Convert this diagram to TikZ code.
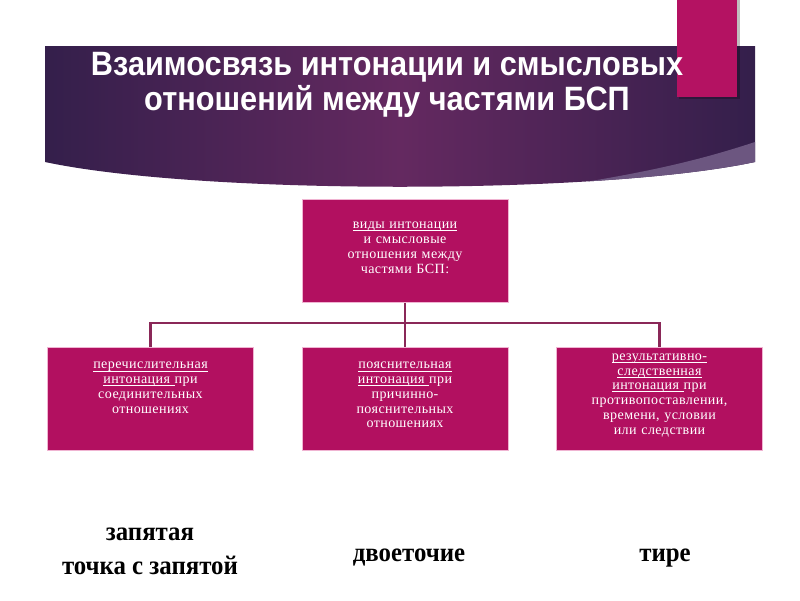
\documentclass[tikz,border=0pt]{standalone}
\usepackage{graphicx}
\usepackage{fontspec}
\setmainfont{Liberation Serif}
\newfontfamily\titlefont{Liberation Sans}
\newfontfamily\boxfont[LetterSpace=3]{Liberation Serif}
\usepackage{tikz}
\usetikzlibrary{positioning, calc}

\definecolor{bannerdark}{RGB}{52,31,75}
\definecolor{bannermid}{RGB}{100,41,96}
\definecolor{bannerlight}{RGB}{108,86,128}
\definecolor{accent}{RGB}{180,18,98}
\definecolor{boxfill}{RGB}{178,16,96}
\definecolor{boxline}{RGB}{240,180,210}
\definecolor{linkcol}{RGB}{138,40,88}

\newcommand\ulword[1]{\underline{\smash{#1}}}

\begin{document}
\begin{tikzpicture}[x=0.025cm, y=-0.025cm,
    kindbox/.style={rectangle, fill=boxfill, draw=boxline, line width=0.6pt,
      minimum width=5.15cm, minimum height=2.575cm, text width=4.8cm,
      align=center, text=white, font=\boxfont\fontsize{10}{10.5}\selectfont},
    link/.style={linkcol, line width=1.6pt},
    mark label/.style={font=\bfseries\fontsize{19}{24}\selectfont, align=center}]
      \useasboundingbox (0,0) rectangle (800,600);

      % Banner with curved bottom edge
      \shade[left color=bannerdark, right color=bannerdark, middle color=bannermid]
        (45,46) -- (755,46) -- (755,162) .. controls (600,195) and (200,195) .. (45,162) -- cycle;
      \begin{scope}
        \clip (45,46) -- (755,46) -- (755,162) .. controls (600,195) and (200,195) .. (45,162) -- cycle;
        \fill[bannerlight] (755,142) .. controls (700,160) and (650,172) .. (560,186) -- (800,220) -- (800,142) -- cycle;
      \end{scope}

      % Pink tab
      \fill[black, opacity=0.25] (679,0) rectangle (740,99);
      \fill[accent] (677,0) rectangle (737,97);

      % Title
      \node[text=white, font=\titlefont\bfseries\fontsize{24}{23}\selectfont] (title) at (387,86)
        {\scalebox{0.91}[1]{\begin{tabular}{@{}c@{}}Взаимосвязь интонации и смысловых\\отношений между частями БСП\end{tabular}}};

      % Boxes
      \node[kindbox] (top) at (405,251)
        {\ulword{виды интонации}\\и смысловые\\отношения между\\частями БСП:};
      \node[kindbox] (left) at (150.5,398.5)
        {\ulword{перечислительная}\\\ulword{интонация }при\\соединительных\\отношениях\\~};
      \node[kindbox] (mid) at (405,398.5)
        {\ulword{пояснительная}\\\ulword{интонация }при\\причинно-\\пояснительных\\отношениях};
      \node[kindbox] (right) at (659.5,398.5)
        {\ulword{результативно-}\\\ulword{следственная}\\\ulword{интонация }при\\противопоставлении,\\времени, условии\\или следствии};

      % Connectors
      \coordinate (bus) at (405,323);
      \draw[link] (top.south) -- (mid.north);
      \draw[link] (left.north) |- (bus) -| (right.north);

      % Punctuation marks
      \node[mark label] (comma) at (150,551) {\scalebox{0.93}[1]{\begin{tabular}{@{}c@{}}запятая\\точка с запятой\end{tabular}}};
      \node[mark label] (colon) at (409,558) {\scalebox{0.93}[1]{двоеточие}};
      \node[mark label] (dash) at (665,558) {\scalebox{0.93}[1]{тире}};

    \end{tikzpicture}
\end{document}
